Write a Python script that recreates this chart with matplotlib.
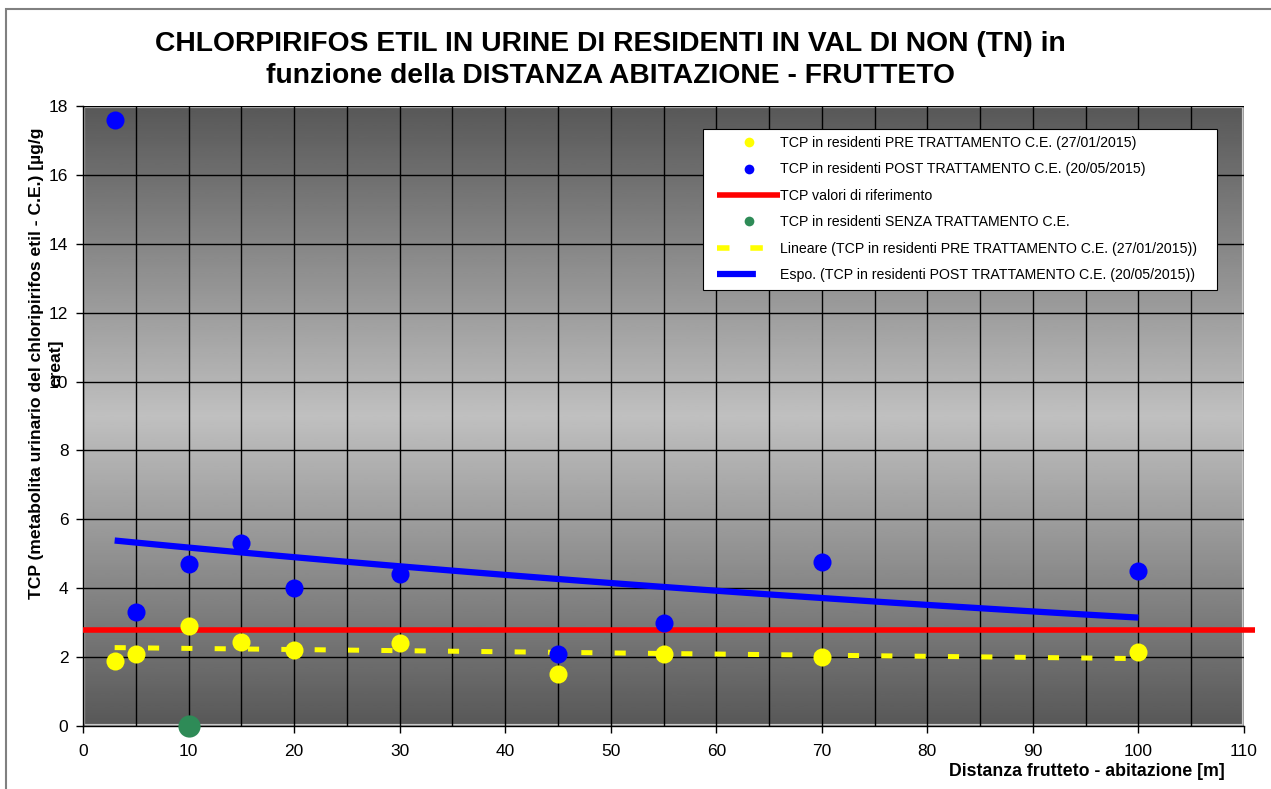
import numpy as np
import matplotlib.pyplot as plt
from matplotlib.lines import Line2D
from matplotlib.patches import Rectangle

plt.rcParams['font.family'] = ['Liberation Sans', 'DejaVu Sans']
plt.rcParams['lines.scale_dashes'] = False

# data
dist = [3, 5, 10, 15, 20, 30, 45, 55, 70, 100]
tcp_pre = [1.9, 2.1, 2.9, 2.45, 2.2, 2.4, 1.5, 2.1, 2.0, 2.15]
tcp_post = [17.6, 3.3, 4.7, 5.3, 4.0, 4.4, 2.1, 3.0, 4.75, 4.5]
dist_senza = [10]
tcp_senza = [0]
rif_x = [0, 111]
rif_val = 2.8

# trend lines as in Excel: linear for PRE, exponential for POST
x = np.array(dist, dtype=float)
lin = np.polyfit(x, tcp_pre, 1)
esp = np.polyfit(x, np.log(tcp_post), 1)
xt = np.linspace(min(dist), max(dist), 100)
trend_pre = np.polyval(lin, xt)
trend_post = np.exp(np.polyval(esp, xt))

W, H = 1271, 789
fig = plt.figure(figsize=(W / 100, H / 100), dpi=100)
ax = fig.add_axes([83 / W, 1 - 726 / H, (1244 - 83) / W, (726 - 106) / H])

# background gradient dark - light - dark
t = np.linspace(0, 1, 256)
g = (88 + (192 - 88) * (1 - np.abs(2 * t - 1))) / 255
ax.imshow(g.reshape(-1, 1), extent=[0, 110, 0, 18], aspect='auto', cmap='gray',
          vmin=0, vmax=1, zorder=0, interpolation='bilinear')
ax.add_patch(Rectangle((0, 0), 1, 1, transform=ax.transAxes, fill=False,
                       edgecolor='#c8c8c8', lw=3, zorder=1))

ax.set_xlim(0, 110)
ax.set_ylim(0, 18)
ax.set_xticks(range(0, 111, 10))
ax.set_xticks(range(5, 110, 10), minor=True)
ax.set_yticks(range(0, 19, 2))
ax.grid(which='both', color='black', lw=1, zorder=1)
ax.set_axisbelow(False)
ax.tick_params(which='major', length=5, width=1, labelsize=12.5, direction='out')
ax.tick_params(axis='x', pad=8)
ax.tick_params(axis='y', pad=5.5)
ax.tick_params(which='minor', length=0)
for s in ['top', 'right']:
    ax.spines[s].set_visible(False)
for s in ['left', 'bottom']:
    ax.spines[s].set_color('black')
    ax.spines[s].set_linewidth(1)
    ax.spines[s].set_zorder(3)

# lines
ax.plot(rif_x, [rif_val, rif_val], color='#ff0000', lw=4, clip_on=False, zorder=4,
        solid_capstyle='butt')
ax.plot(xt, trend_pre, color='#ffff00', lw=3.6, dashes=(8, 16), zorder=4,
        dash_capstyle='butt')
ax.plot(xt, trend_post, color='#0000ff', lw=4.5, zorder=4, solid_capstyle='butt')

# points
ax.plot(dist, tcp_pre, 'o', color='#ffff00', ms=13, mec='none', zorder=5)
ax.plot(dist, tcp_post, 'o', color='#0000ff', ms=13, mec='none', zorder=5)
ax.plot(dist_senza, tcp_senza, 'o', color='#2e8b57', ms=16, mec='none', zorder=6,
        clip_on=False)

# legend
handles = [
    Line2D([], [], ls='none', marker='o', color='#ffff00', ms=7, mec='none'),
    Line2D([], [], ls='none', marker='o', color='#0000ff', ms=7, mec='none'),
    Line2D([], [], color='#ff0000', lw=4, solid_capstyle='butt'),
    Line2D([], [], ls='none', marker='o', color='#2e8b57', ms=7, mec='none'),
    Line2D([], [], color='#ffff00', lw=4, dashes=(9, 15), dash_capstyle='butt'),
    Line2D([], [], color='#0000ff', lw=4.5, dashes=(28, 100), dash_capstyle='butt'),
]
labels = [
    'TCP in residenti PRE TRATTAMENTO C.E. (27/01/2015)',
    'TCP in residenti POST TRATTAMENTO C.E. (20/05/2015)',
    'TCP valori di riferimento',
    'TCP in residenti SENZA TRATTAMENTO C.E.',
    'Lineare (TCP in residenti PRE TRATTAMENTO C.E. (27/01/2015))',
    'Espo. (TCP in residenti POST TRATTAMENTO C.E. (20/05/2015))',
]
leg = ax.legend(handles, labels, loc='upper left', bbox_to_anchor=(717 / W, 1 - 136 / H),
                bbox_transform=fig.transFigure, fontsize=10.2, frameon=False,
                handlelength=4.45, labelspacing=0.88, borderpad=0, borderaxespad=0,
                handletextpad=0.0)
leg.set_zorder(10)
ax.add_patch(Rectangle((703 / W, 1 - 290 / H), (1217 - 703) / W, (290 - 129) / H,
                       transform=fig.transFigure, facecolor='white', edgecolor='black',
                       lw=0.8, clip_on=False, zorder=9))

# texts
fig.text(610 / W, 1 - 60 / H,
         'CHLORPIRIFOS ETIL IN URINE DI RESIDENTI IN VAL DI NON (TN) in\n'
         'funzione della DISTANZA ABITAZIONE - FRUTTETO',
         ha='center', va='center', fontsize=20.3, weight='bold', linespacing=1.3)
ax.set_ylabel('TCP (metabolita urinario del chloripirifos etil - C.E.) [µg/g\ncreat]',
              fontsize=12.6, weight='bold', linespacing=1.38)
ax.yaxis.set_label_coords(-0.0165, 0.585)
fig.text(1225 / W, 1 - 772 / H, 'Distanza frutteto - abitazione [m]', ha='right',
         va='center', fontsize=12.8, weight='bold')

# outer frame of the sheet
fig.add_artist(Rectangle((6 / W, -0.1), 1.2, (H - 9) / H + 0.1, transform=fig.transFigure,
                         fill=False, edgecolor='#808080', lw=1.5))

fig.savefig('out.png', dpi=100)
